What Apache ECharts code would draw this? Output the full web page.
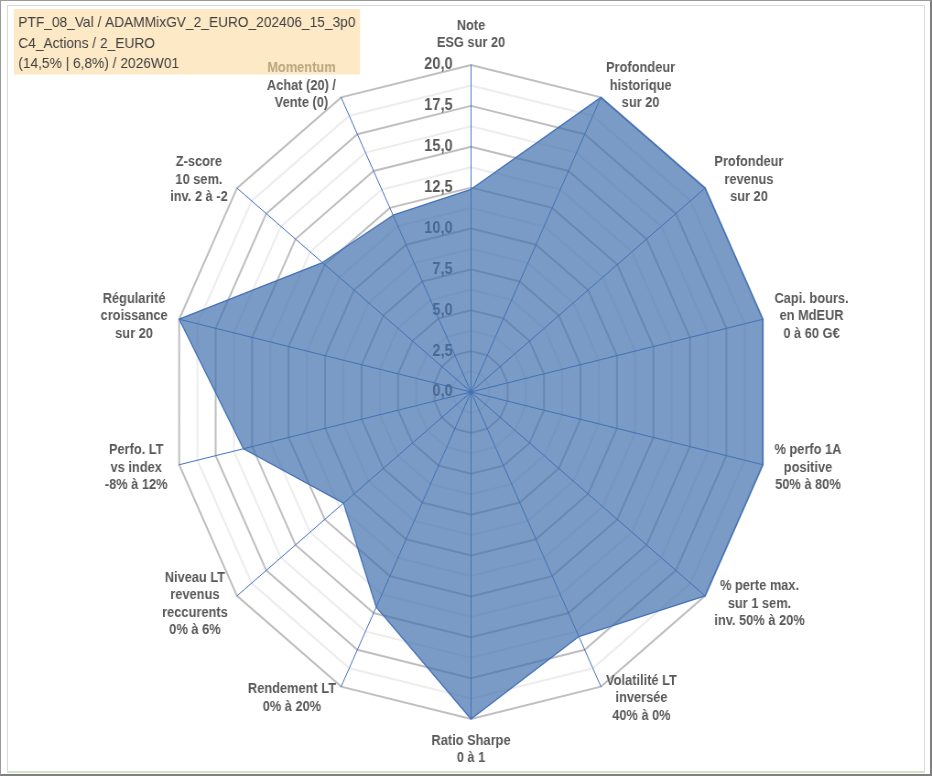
<!DOCTYPE html>
<html lang="fr">
<head>
    <meta charset="UTF-8">
    <title>Radar PTF_08_Val</title>
    <script src="https://cdn.jsdelivr.net/npm/echarts@6/dist/echarts.min.js" type="text/javascript"></script>
    <style>
        html, body { margin: 0; padding: 0; overflow: hidden; background: #fff; }
        #frame { position: relative; width: 932px; height: 776px; overflow: hidden; }
        /* le graphique d'origine est légèrement écrasé en largeur */
        #main { position: absolute; left: 0; top: 0; width: 1018px; height: 776px;
                transform: scaleX(0.9155); transform-origin: 0 0; }
        .bord1 { position: absolute; left: 0; top: 0; width: 929px; height: 773px;
                 border: 1px solid #9a9a9a; border-right: 2px solid #7f7f7f; border-bottom: 2px solid #7f7f7f; pointer-events: none; }
        .bord2 { position: absolute; left: 7px; top: 5px; width: 916px; height: 765px;
                 border: 1px solid #dadada; border-bottom: 2px solid #cfe5c6; pointer-events: none; }
    </style>
</head>
<body>
<div id="frame">
    <div id="main"></div>
    <div class="bord2"></div>
    <div class="bord1"></div>
</div>
<script>
    // axes du radar, dans l'ordre du graphique (sens horaire depuis le haut)
    var axes = [
        'Note\nESG sur 20',
        'Profondeur\nhistorique\nsur 20',
        'Profondeur\nrevenus\nsur 20',
        'Capi. bours.\nen MdEUR\n0 à 60 G€',
        '% perfo 1A\npositive\n50% à 80%',
        '% perte max.\nsur 1 sem.\ninv. 50% à 20%',
        'Volatilité LT\ninversée\n40% à 0%',
        'Ratio Sharpe\n0 à 1',
        'Rendement LT\n0% à 20%',
        'Niveau LT\nrevenus\nreccurents\n0% à 6%',
        'Perfo. LT\nvs index\n-8% à 12%',
        'Régularité\ncroissance\nsur 20',
        'Z-score\n10 sem.\ninv. 2 à -2',
        'Momentum\nAchat (20) /\nVente (0)'
    ];
    // notes sur 20
    var scores = [12.4, 20, 20, 20, 20, 20, 16.6, 20, 14.6, 10.9, 15.6, 20, 12.7, 12.0];
    var tickLabels = ['0,0', '2,5', '5,0', '7,5', '10,0', '12,5', '15,0', '17,5', '20,0'];
    var titleLines = [
        'PTF_08_Val / ADAMMixGV_2_EURO_202406_15_3p0',
        'C4_Actions / 2_EURO',
        '(14,5% | 6,8%) / 2026W01'
    ];

    // echarts tourne dans le sens anti-horaire : on inverse tout sauf le premier axe
    var order = [0];
    for (var i = axes.length - 1; i > 0; i--) order.push(i);

    var indicators = order.map(function (k, j) {
        var ind = { name: axes[k], min: 0, max: 20 };
        if (j === 0) ind.axisLabel = { show: true };
        return ind;
    });
    var values = order.map(function (k) { return scores[k]; });

    var mychart = echarts.init(document.getElementById('main'));
    var option = {
        backgroundColor: '#ffffff',
        animation: false,
        title: {
            z: 0,
            text: titleLines.join('\n'),
            left: 15,
            top: 9,
            padding: [4, 5, 0, 5],
            backgroundColor: '#fde9c6',
            textStyle: {
                fontFamily: 'Liberation Sans',
                fontSize: 15,
                fontWeight: 'normal',
                color: '#404040',
                lineHeight: 20.5
            }
        },
        radar: {
            z: 5,
            center: [514.5, 392],
            radius: 327,
            startAngle: 90,
            splitNumber: 16,
            shape: 'polygon',
            axisNameGap: 13,
            axisName: {
                fontFamily: 'Liberation Sans',
                fontSize: 14,
                fontWeight: 'bold',
                color: '#595959',
                formatter: function (name) {
                    return name.split('\n').map(function (l) {
                        return (l === 'Momentum' ? '{m|' : '{c|') + l + '}';
                    }).join('\n');
                },
                rich: {
                    c: { align: 'center', fontFamily: 'Liberation Sans', fontSize: 14, fontWeight: 'bold',
                         color: '#595959', lineHeight: 17.5 },
                    m: { align: 'center', fontFamily: 'Liberation Sans', fontSize: 14, fontWeight: 'bold',
                         color: '#baa67e', lineHeight: 17.5 }
                }
            },
            axisLine: { lineStyle: { color: '#4472c4', width: 1 } },
            axisTick: { show: false },
            axisLabel: {
                show: false,
                margin: 20,
                fontFamily: 'Liberation Sans',
                fontSize: 16,
                fontWeight: 'bold',
                color: '#595959',
                formatter: function (v) {
                    var k = v / 2.5;
                    return Math.abs(k - Math.round(k)) < 1e-6 ? tickLabels[Math.round(k)] : '';
                }
            },
            splitLine: {
                lineStyle: { color: ['#bfbfbf', '#ededed'], width: 2 }
            },
            splitArea: { show: false },
            indicator: indicators
        },
        series: [
            {
                name: 'Notes',
                type: 'radar',
                z: 6,
                symbol: 'none',
                lineStyle: { color: '#4472c4', width: 1.3 },
                areaStyle: { color: '#4070ad', opacity: 0.7 },
                data: [{ value: values, name: 'Notes' }]
            }
        ]
    };
    mychart.setOption(option);
</script>
</body>
</html>
